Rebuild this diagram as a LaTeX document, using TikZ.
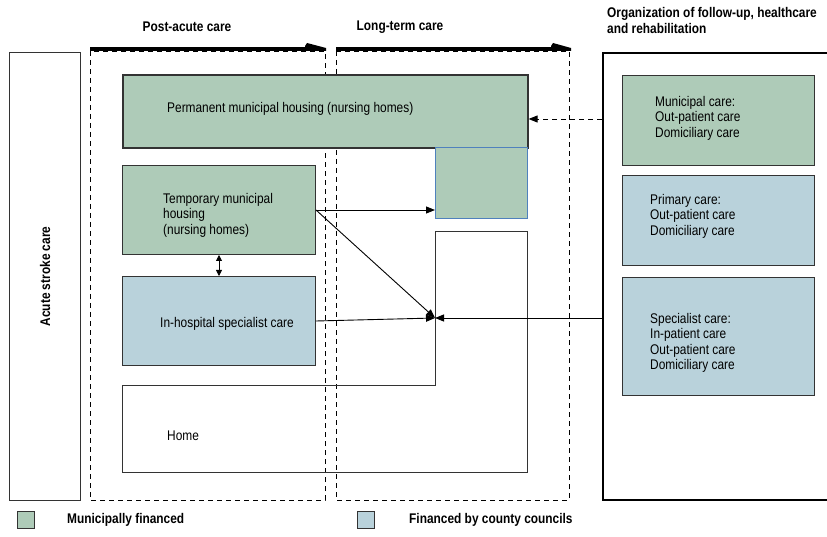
\documentclass[tikz,border=0pt]{standalone}
\usepackage{fontspec}
\setmainfont[FakeStretch=0.85]{Liberation Sans}
\usetikzlibrary{arrows.meta}
\definecolor{muni}{RGB}{174,203,184}
\definecolor{county}{RGB}{185,210,219}
\definecolor{extline}{RGB}{79,129,189}

\begin{document}
\begin{tikzpicture}[x=1pt,y=-1pt,
    box/.style={draw=black!80,line width=1pt,anchor=north west,inner sep=0pt},
    gbox/.style={box,fill=muni},
    bbox/.style={box,fill=county},
    span/.style={draw,line width=0.9pt,dash pattern=on 5pt off 4pt},
    lbl/.style={anchor=west,align=left,inner sep=0pt,font=\fontsize{14}{15.5}\selectfont},
    hd/.style={inner sep=0pt,align=left,font=\fontsize{14}{16}\selectfont\bfseries},
    >={Triangle[length=9pt,width=7pt]}]
  \useasboundingbox (0,0) rectangle (827,537);

  % acute phase
  \node[box,minimum width=71,minimum height=448] (acute) at (9,52) {};
  \node[hd,rotate=90] (acutet) at (acute.center) {Acute stroke care};

  % time spans with headings
  \draw[span] (90,51) rectangle (325,500);
  \draw[span] (336,51) rectangle (569,500);
  \draw[line width=3.5pt] (90,49) -- (322,49);
  \fill (305,46) -- (307,43) -- (326,48) -- (326,51) -- (305,51) -- cycle;
  \draw[line width=3.5pt] (336,49) -- (567,49);
  \fill (551,46) -- (553,43) -- (571,48) -- (571,51) -- (551,51) -- cycle;
  \node[hd] (post) at (187,27) {Post-acute care};
  \node[hd] (long) at (400,27) {Long-term care};
  \node[hd,anchor=north west] (orgt) at (607,7) {Organization of follow-up, healthcare\\and rehabilitation};

  % organization side
  \node[draw,line width=2pt,anchor=north west,inner sep=0pt,minimum width=236,minimum height=447] (org) at (602,52) {};
  \node[gbox,minimum width=192,minimum height=90] (muncare) at (622,75) {};
  \node[lbl] (munt) at (655,118) {Municipal care:\\Out-patient care\\Domiciliary care};
  \node[bbox,minimum width=192,minimum height=90] (prim) at (622,175) {};
  \node[lbl] (primt) at (650,216) {Primary care:\\Out-patient care\\Domiciliary care};
  \node[bbox,minimum width=192,minimum height=118] (spec) at (622,277) {};
  \node[lbl] (spect) at (650,343) {Specialist care:\\In-patient care\\Out-patient care\\Domiciliary care};

  % places of care
  \node[gbox,line width=1.6pt,minimum width=405,minimum height=73] (perm) at (122,74) {};
  \node[lbl] (permt) at (167,109) {Permanent municipal housing (nursing homes)};
  \node[gbox,draw=extline,minimum width=92,minimum height=71] (ext) at (435,147) {};
  \node[gbox,minimum width=193,minimum height=89] (temp) at (122,165) {};
  \node[lbl] (tempt) at (163,215) {Temporary municipal\\housing\\(nursing homes)};
  \node[bbox,minimum width=193,minimum height=89] (hosp) at (122,276) {};
  \node[lbl] (hospt) at (160,324) {In-hospital specialist care};
  \draw[draw=black!80,line width=1pt] (435,232) -- (527,232) -- (527,472) -- (122,472)
    -- (122,385) -- (435,385) -- cycle;
  \node[lbl] (home) at (167,436) {Home};
  \coordinate (hin) at (435,318);

  % flows
  \draw[<->,>={Triangle[length=6pt,width=6pt]},line width=0.8pt] (temp) -- (hosp);
  \draw[->,line width=0.9pt] (temp.east) -- (temp.east -| ext.west);
  \draw[->,line width=0.9pt] (temp.east) -- (hin);
  \draw[->,line width=0.9pt] (hosp.east) -- (hin);
  \draw[->,line width=0.9pt] (org.west |- hin) -- (hin);
  \draw[->,line width=0.9pt,dash pattern=on 5pt off 4pt] (org.west |- 0,119) -- (perm.east |- 0,119);

  % legend
  \node[gbox,minimum width=17,minimum height=17] (lgm) at (17,511) {};
  \node[hd,anchor=west] (lgmt) at (67,520) {Municipally financed};
  \node[bbox,minimum width=17,minimum height=17] (lgc) at (357,511) {};
  \node[hd,anchor=west] (lgct) at (409,520) {Financed by county councils};
\end{tikzpicture}
\end{document}
